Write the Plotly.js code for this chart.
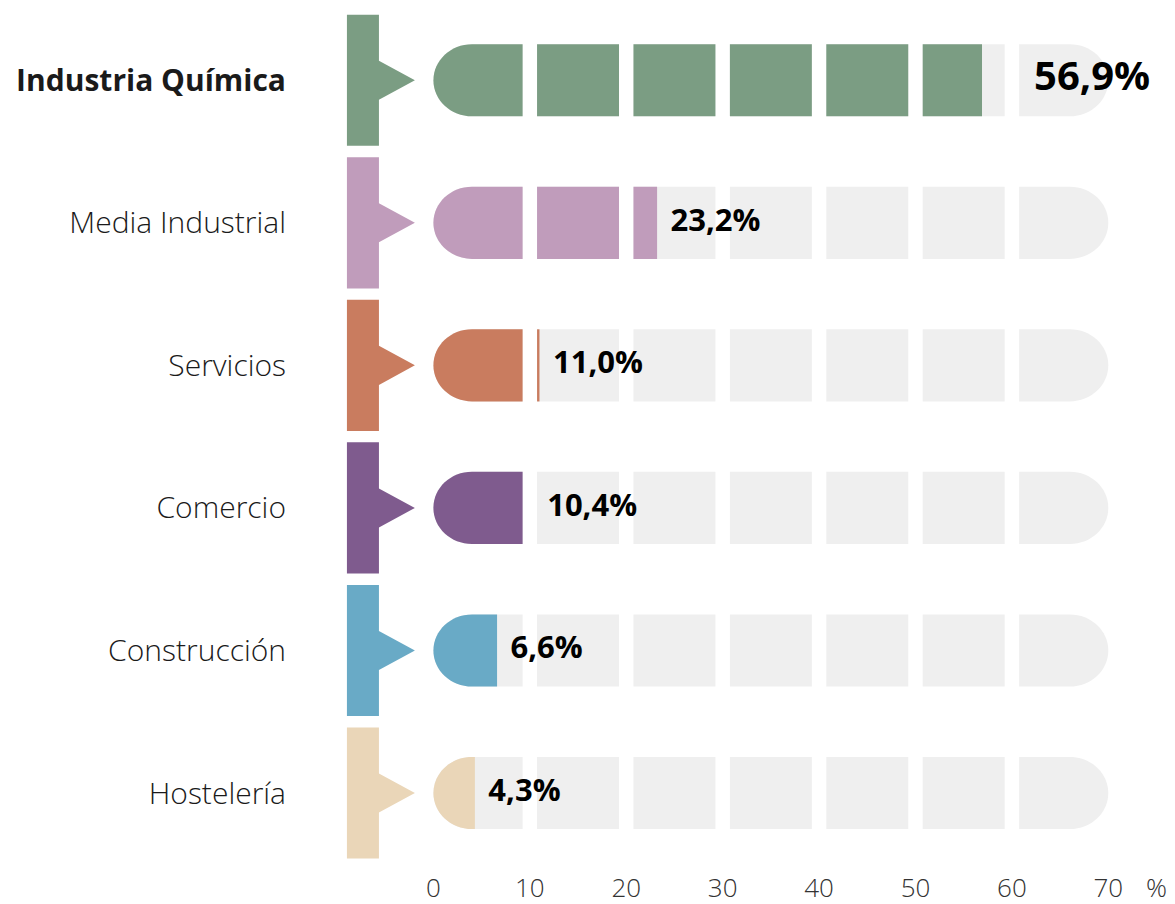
<!DOCTYPE html>
<html>
<head>
<meta charset="utf-8">
<script src="https://cdn.plot.ly/plotly-3.0.1.min.js"></script>
<style>
  html, body { margin: 0; padding: 0; background: #fff; }
  #chart { width: 1175px; height: 904px; }
</style>
</head>
<body>
<div id="chart"></div>
<script>
// datos
const categories = ['Industria Química', 'Media Industrial', 'Servicios', 'Comercio', 'Construcción', 'Hostelería'];
const values = [56.9, 23.2, 11.0, 10.4, 6.6, 4.3];
const colors = ['#7b9d83', '#c09cbb', '#c97c5f', '#7f5b8e', '#69aac6', '#ead6b8'];
const tickValues = [0, 10, 20, 30, 40, 50, 60, 70];
const tickLabels = ['0', '10', '20', '30', '40', '50', '60', '70'];

// geometria (unidades de datos)
const halfH = 0.253;     // media altura de la barra
const gap = 1.5;         // hueco entre segmentos
const rx = 4.0;          // radio horizontal de los extremos redondeados
const K = 0.5523;

function segPath(x0, x1, yc, h, roundL, roundR) {
  let p = 'M' + (roundL ? x0 + rx : x0) + ',' + (yc - h);
  if (roundR) {
    const a = x1 - rx;
    p += ' L' + a + ',' + (yc - h);
    p += ' C' + (a + K * rx) + ',' + (yc - h) + ' ' + x1 + ',' + (yc - K * h) + ' ' + x1 + ',' + yc;
    p += ' C' + x1 + ',' + (yc + K * h) + ' ' + (a + K * rx) + ',' + (yc + h) + ' ' + a + ',' + (yc + h);
  } else {
    p += ' L' + x1 + ',' + (yc - h) + ' L' + x1 + ',' + (yc + h);
  }
  if (roundL) {
    const b = x0 + rx;
    p += ' L' + b + ',' + (yc + h);
    p += ' C' + (b - K * rx) + ',' + (yc + h) + ' ' + x0 + ',' + (yc + K * h) + ' ' + x0 + ',' + yc;
    p += ' C' + x0 + ',' + (yc - K * h) + ' ' + (b - K * rx) + ',' + (yc - h) + ' ' + b + ',' + (yc - h);
  } else {
    p += ' L' + x0 + ',' + (yc + h);
  }
  return p + ' Z';
}

const shapes = [];
const nSeg = tickValues.length - 1;

categories.forEach((cat, i) => {
  const v = values[i];
  // marcador lateral con flecha
  shapes.push({
    type: 'path', xref: 'x', yref: 'y', layer: 'below',
    path: 'M-8.97,' + (i - 0.46) + ' L-5.65,' + (i - 0.46) + ' L-5.65,' + (i - 0.137) +
          ' L-1.92,' + i + ' L-5.65,' + (i + 0.137) + ' L-5.65,' + (i + 0.46) +
          ' L-8.97,' + (i + 0.46) + ' Z',
    fillcolor: colors[i], line: { width: 0 }
  });
  for (let k = 0; k < nSeg; k++) {
    const s0 = k === 0 ? tickValues[0] : tickValues[k] + gap / 2;
    const s1 = k === nSeg - 1 ? tickValues[k + 1] : tickValues[k + 1] - gap / 2;
    // fondo gris
    shapes.push({
      type: 'path', xref: 'x', yref: 'y', layer: 'below',
      path: segPath(s0, s1, i, halfH, k === 0, k === nSeg - 1),
      fillcolor: '#efefef', line: { width: 0 }
    });
    // relleno de color hasta el valor
    if (v > s0) {
      const e = Math.min(v, s1);
      shapes.push({
        type: 'path', xref: 'x', yref: 'y', layer: 'below',
        path: segPath(s0, e, i, halfH, k === 0, k === nSeg - 1 && v >= s1),
        fillcolor: colors[i], line: { width: 0 }
      });
    }
  }
});

const labelX = values.map(v => v > 50 ? 62.3 : v + 1.4);
const labelText = values.map(v => v.toFixed(1).replace('.', ',') + '%');
const labelSize = values.map(v => v > 50 ? 40 : 31);

const trace = {
  type: 'scatter',
  mode: 'text',
  x: labelX,
  y: categories.map((c, i) => i),
  text: labelText,
  textposition: 'middle right',
  textfont: { family: 'Open Sans', size: labelSize, color: '#000', weight: 700 },
  hoverinfo: 'skip',
  showlegend: false,
  cliponaxis: false
};

const layout = {
  width: 1175,
  height: 904,
  margin: { l: 337, r: 18, t: 8.7, b: 34 },
  paper_bgcolor: '#fff',
  plot_bgcolor: '#fff',
  showlegend: false,
  font: { family: 'Open Sans', color: '#222' },
  xaxis: {
    range: [-10, 75.05],
    tickvals: tickValues.concat([75]),
    ticktext: tickLabels.concat(['%']),
    tickfont: { family: 'Open Sans', size: 26, color: '#333', weight: 300 },
    showgrid: false, zeroline: false, showline: false,
    ticks: '', fixedrange: true
  },
  yaxis: {
    range: [5.54, -0.5],
    tickvals: categories.map((c, i) => i),
    ticktext: categories.map((c, i) => i === 0 ? '<b>' + c + '</b>' : c),
    tickfont: { family: 'Open Sans', size: 30, color: '#1a1a1a', weight: 300 },
    ticklabelstandoff: 50,
    showgrid: false, zeroline: false, showline: false,
    ticks: '', fixedrange: true
  },
  shapes: shapes
};

Plotly.newPlot('chart', [trace], layout, { displayModeBar: false, staticPlot: true });
</script>
</body>
</html>
